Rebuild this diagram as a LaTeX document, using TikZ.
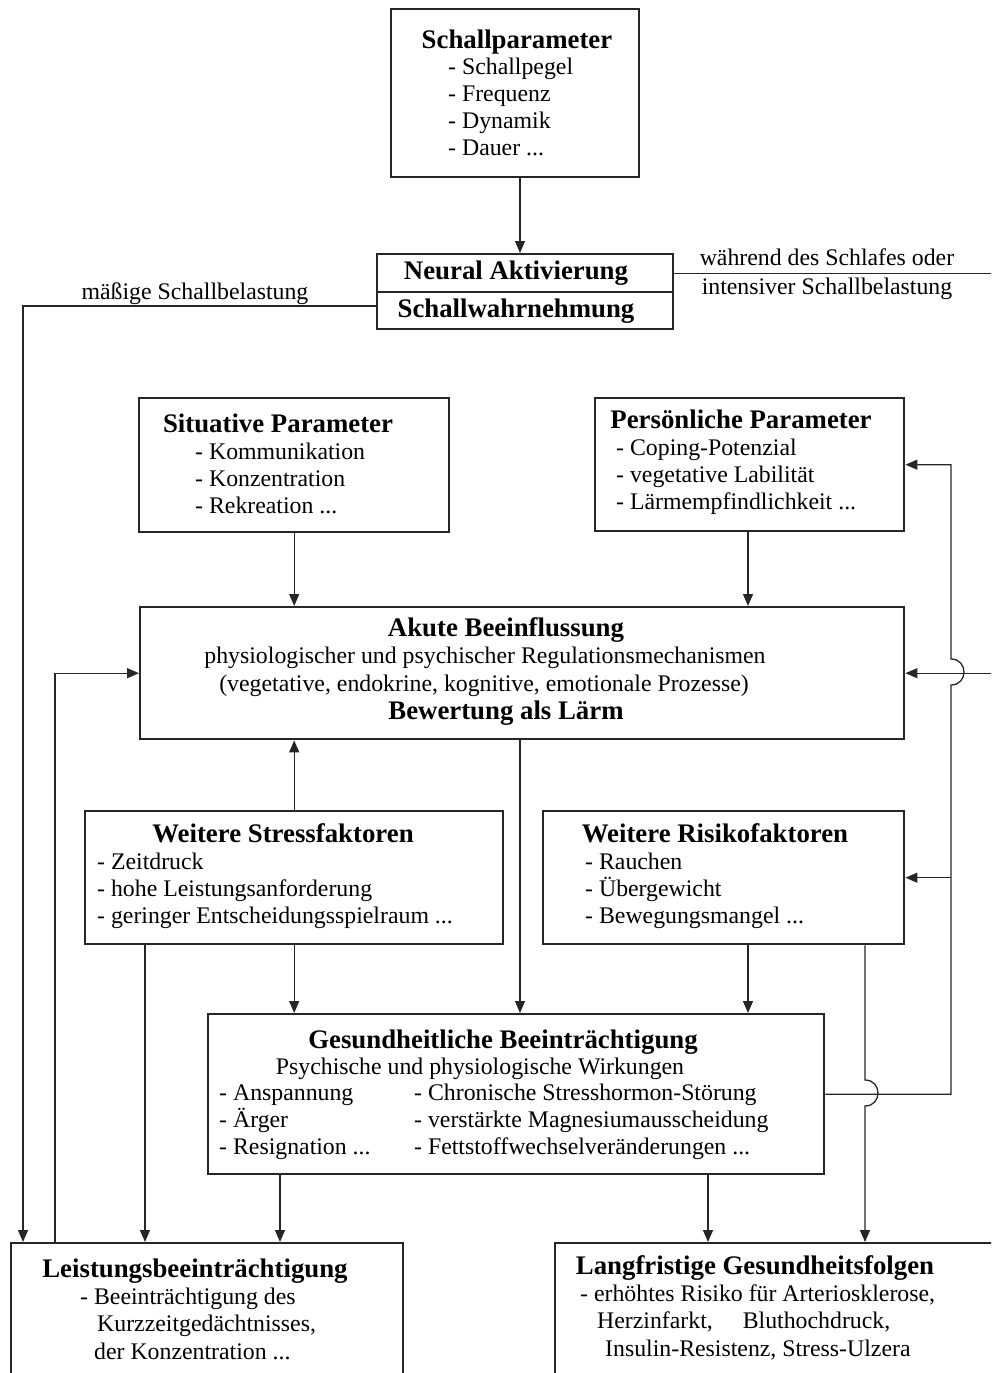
\documentclass[tikz,border=0pt]{standalone}
\usepackage{fontspec}
\setmainfont{Liberation Serif}
\usetikzlibrary{arrows.meta}
\newcommand{\lst}[1]{\begin{tabular}[t]{@{}l@{}}#1\end{tabular}}
\begin{document}
\begin{tikzpicture}[x=1pt,y=-1pt,
  box/.style={draw=black!85, line width=2.4pt, inner sep=0pt, anchor=north west},
  txt/.style={inner sep=0pt, font=\fontsize{23.8}{27}\selectfont},
  ttl/.style={inner sep=0pt, font=\fontsize{26.8}{27}\selectfont\bfseries, anchor=base},
  itm/.style={txt, anchor=base west},
  ctr/.style={txt, anchor=base},
  ln/.style={line width=1.3pt, draw=black!85},
  arr/.style={ln, -{Triangle[length=12pt,width=10pt]}}]
\useasboundingbox (0,0) rectangle (991,1373);
\begin{scope}
\clip (0,0) rectangle (991,1373);
% boxes
\node[box, minimum width=248pt, minimum height=168pt] (sp) at (390,8) {};
\node[box, minimum width=296pt, minimum height=38pt] (na1) at (376,253) {};
\node[box, minimum width=296pt, minimum height=37pt] (na2) at (376,291) {};
\node[box, minimum width=310pt, minimum height=134pt] (sit) at (138,397) {};
\node[box, minimum width=309pt, minimum height=133pt] (per) at (594,397) {};
\node[box, minimum width=764pt, minimum height=132pt] (ak) at (139,606) {};
\node[box, minimum width=418pt, minimum height=133pt] (st) at (84,810) {};
\node[box, minimum width=361pt, minimum height=133pt] (ri) at (542,810) {};
\node[box, minimum width=616pt, minimum height=160pt] (ge) at (207,1013) {};
\node[box, minimum width=392pt, minimum height=170pt] (le) at (10,1242) {};
\node[box, minimum width=470pt, minimum height=170pt] (la) at (554,1242) {};
% texts
\node[ttl] (sp-t) at (517,48) {Schallparameter};
\node[itm] (sp-i) at (448,74) {\lst{- Schallpegel\\- Frequenz\\- Dynamik\\- Dauer ...}};
\node[ttl] (na1-t) at (516,279) {Neural Aktivierung};
\node[ttl] (na2-t) at (516,317) {Schallwahrnehmung};
\node[ctr] (w1) at (827,265) {während des Schlafes oder};
\node[ctr] (w2) at (827,294) {intensiver Schallbelastung};
\node[ctr] (m1) at (195,299) {mäßige Schallbelastung};
\node[ttl] (sit-t) at (278,432) {Situative Parameter};
\node[itm] (sit-i) at (195,459) {\lst{- Kommunikation\\- Konzentration\\- Rekreation ...}};
\node[ttl] (per-t) at (741,428) {Persönliche Parameter};
\node[itm] (per-i) at (616,455) {\lst{- Coping-Potenzial\\- vegetative Labilität\\- Lärmempfindlichkeit ...}};
\node[ttl] (ak-t) at (506,636) {Akute Beeinflussung};
\node[ctr] (ak-2) at (485,663) {physiologischer und psychischer Regulationsmechanismen};
\node[ctr] (ak-3) at (484,691) {(vegetative, endokrine, kognitive, emotionale Prozesse)};
\node[ttl] (ak-4) at (506,719) {Bewertung als Lärm};
\node[ttl] (st-t) at (283,842) {Weitere Stressfaktoren};
\node[itm] (st-i) at (97,869) {\lst{- Zeitdruck\\- hohe Leistungsanforderung\\- geringer Entscheidungsspielraum ...}};
\node[ttl] (ri-t) at (715,842) {Weitere Risikofaktoren};
\node[itm] (ri-i) at (585,869) {\lst{- Rauchen\\- Übergewicht\\- Bewegungsmangel ...}};
\node[ttl] (ge-t) at (503,1048) {Gesundheitliche Beeinträchtigung};
\node[ctr] (ge-2) at (480,1074) {Psychische und physiologische Wirkungen};
\node[itm] (ge-l) at (219,1100) {\lst{- Anspannung\\- Ärger\\- Resignation ...}};
\node[itm] (ge-r) at (414,1100) {\lst{- Chronische Stresshormon-Störung\\- verstärkte Magnesiumausscheidung\\- Fettstoffwechselveränderungen ...}};
\node[ttl] (le-t) at (195,1277) {Leistungsbeeinträchtigung};
\node[itm] (le-1) at (80,1304) {- Beeinträchtigung des};
\node[itm] (le-2) at (97,1331) {Kurzzeitgedächtnisses,};
\node[itm] (le-3) at (94,1359) {der Konzentration ...};
\node[ttl] (la-t) at (755,1274) {Langfristige Gesundheitsfolgen};
\node[itm] (la-1) at (580,1301) {- erhöhtes Risiko für Arteriosklerose,};
\node[itm] (la-2) at (597,1328) {Herzinfarkt,\hspace{30pt}Bluthochdruck,};
\node[itm] (la-3) at (605,1356) {Insulin-Resistenz, Stress-Ulzera};
% helper coordinates
\coordinate (x23) at (23,0);
\coordinate (x55) at (55,0);
\coordinate (x145) at (145,0);
\coordinate (x280) at (280,0);
\coordinate (x520) at (520,0);
\coordinate (x708) at (708,0);
\coordinate (x748) at (748,0);
\coordinate (x865) at (865,0);
\coordinate (x951) at (951,0);
\coordinate (x1000) at (1000,0);
\coordinate (y306) at (0,306);
% connectors
\draw[arr] (sp.south -| x520) -- (na1.north -| x520);
\draw[arr] (na2.west |- y306) -| (le.north -| x23);
\draw[arr] (le.north -| x55) |- (ak.west);
\draw[arr] (na1.east) -| (x1000 |- ak.east) -- (ak.east);
\draw[arr] (sit.south) -- (sit.south |- ak.north);
\draw[arr] (per.south -| x748) -- (ak.north -| x748);
\draw[arr] (st.north) -- (st.north |- ak.south);
\draw[arr] (ak.south -| x520) -- (ge.north -| x520);
\draw[arr] (st.south) -- (st.south |- ge.north);
\draw[arr] (st.south -| x145) -- (le.north -| x145);
\draw[arr] (ri.south -| x748) -- (ge.north -| x748);
\draw[arr] (ri.south -| x865) -- (865,1080) .. controls +(17.3,0) and +(17.3,0) .. (865,1106) -- (la.north -| x865);
\draw[arr] (ge.south -| x280) -- (le.north -| x280);
\draw[arr] (ge.south -| x708) -- (la.north -| x708);
\draw[arr] (ge.east) -- (ge.east -| x951) -- (951,685) .. controls +(17.3,0) and +(17.3,0) .. (951,659) -- (per.east -| x951) -- (per.east);
\draw[arr] (ri.east -| x951) -- (ri.east);
\end{scope}
\end{tikzpicture}
\end{document}
